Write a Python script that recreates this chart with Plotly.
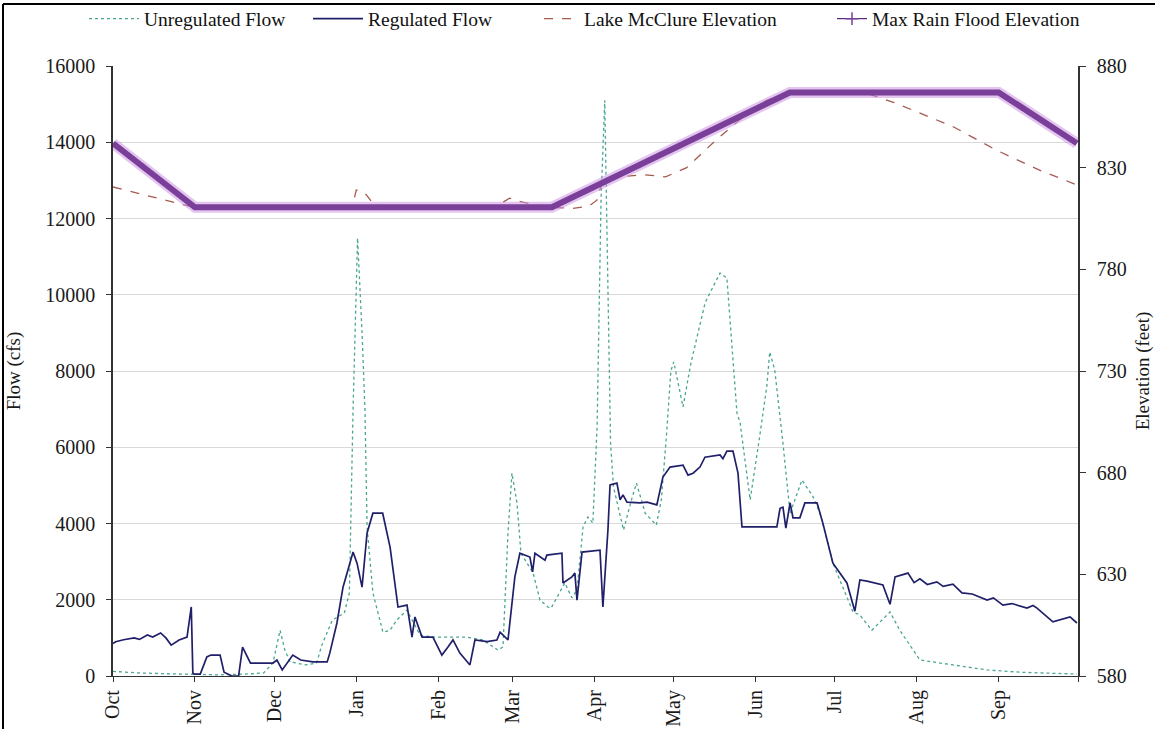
import pandas as pd
import plotly.graph_objects as go

# ---- data (day of water year counted from 1 Oct, value) ----
reg_day = [0, 1, 4, 8, 10, 13, 15, 18, 20, 22, 25, 28, 29.6, 30.2, 30.8, 33, 35.5, 37, 40.5, 42, 45, 47.5, 49, 52,
           60.5, 62, 64, 68, 71, 75.6, 81, 82, 84.7, 87, 90.8, 92.3, 94.2, 96.1, 98.3, 102, 104.8,
           107.8, 111.2, 113.1, 114.2, 116.9, 121, 124.4, 126.7, 128.6, 131.2, 135, 136.9, 141.5,
           145.2, 146.4, 149.4, 152.0, 153.9, 157.7, 158.7, 159.6, 163.4, 164.1, 169.8, 170.2,
           173.6, 174.7, 175.5, 177.4, 184.2, 185.3, 187.2, 188.0, 190.6, 191.8, 192.9, 194.4,
           199.3, 202.0, 205.7, 208.0, 210.7, 215.6, 217.5, 219.4, 222.0, 223.9, 229.6, 230.7,
           232.2, 234.5, 236.4, 237.9, 251.1, 252.3, 253.4, 254.5, 256.1, 257.2, 259.8, 261.7,
           266.3, 268.5, 272.3, 277.6, 280.6, 282.5, 285.2, 291.2, 293.9, 295.8, 300.7, 303,
           305.2, 308, 311.6, 314, 317.7, 321.1, 325, 330.6, 333, 336.6, 340, 345.7, 348, 349.5,
           355.5, 359, 362, 364.6]
reg_flow = [850, 900, 950, 1000, 960, 1075, 1020, 1130, 1000, 810, 945, 1020, 1810, 80, 50, 50, 500, 550, 550, 100, 0, 0, 760, 340,
            340, 420, 160, 550, 420, 370, 370, 600, 1390, 2330, 3250, 2960, 2330, 3750, 4270, 4270, 3380,
            1810, 1860, 1020, 1550, 1020, 1020, 550, 760, 945, 600, 290, 945, 900,
            945, 1150, 945, 2600, 3220, 3120, 2730, 3220, 3040, 3170, 3220, 2440,
            2600, 2700, 1990, 3250, 3300, 1810, 3830, 5010, 5060, 4620, 4750, 4560,
            4540, 4560, 4490, 5220, 5480, 5530, 5270, 5320, 5480, 5740, 5800, 5700,
            5900, 5900, 5320, 3910, 3910, 4400, 4430, 3880, 4540, 4150, 4150, 4540,
            4540, 4010, 2960, 2440, 1700, 2520, 2490, 2390, 1880, 2600, 2700, 2450,
            2550, 2400, 2470, 2350, 2410, 2180, 2150, 1990, 2050, 1860, 1900, 1780, 1850, 1780,
            1420, 1500, 1550, 1390]

unreg_day = [0, 10, 20, 30, 40, 50, 57, 60.5, 63.2, 65, 67, 73, 77, 79, 83, 87.5, 89.4, 90.8, 92.5,
             94.2, 95.3, 96.1, 98.3, 102.1, 104.8, 107.4, 111.2, 116.1, 121, 127.5, 133.9, 139.9,
             145.6, 147.5, 149.4, 150.9, 152.8, 154.3, 158.9, 161.5, 164.5, 165.7, 170.9, 173.6,
             175.5, 177.8, 179.6, 181.5, 183.1, 184.6, 186.0, 187.0, 188.2, 189.3, 193.1, 196.1,
             198.0, 201.3, 205.5, 207.4, 209.3, 211.0, 212.1, 215.6, 218.6, 224, 229.6, 232.2,
             234.9, 236.0, 237.2, 241.0, 244.4, 247.3, 248.4, 250.3, 253.4, 256.1, 260.6, 264.8,
             267.4, 272.3, 279.9, 282.5, 287, 293.9, 297.6, 305.2, 317.7, 330.6, 343, 355.5, 364.6]
unreg_flow = [120, 80, 60, 40, 30, 50, 80, 340, 1200, 680, 370, 290, 340, 810, 1470, 1650, 2180, 6980, 11490,
              9000, 6980, 3910, 2180, 1150, 1200, 1470, 1730, 1075, 1020, 1020, 1020, 945,
              680, 760, 3750, 5320, 4540, 3220, 2700, 1990, 1810, 1780, 2440, 2050,
              2260, 3910, 4170, 4010, 6530, 12500, 15100, 11000, 6110, 4960, 3830, 4620,
              5060, 4270, 3960, 4620, 6270, 8000, 8240, 7060, 8210, 9800, 10570, 10440,
              8030, 6900, 6640, 4620, 6190, 7600, 8500, 8030, 6110, 4270, 5140, 4700,
              4270, 2960, 1680, 1600, 1200, 1680, 1200, 420, 290, 160, 100, 60, 50]

lake_day = [0, 15, 30.6, 60, 88, 90.5, 92, 95, 98, 103, 130, 145, 150, 155, 165, 174, 180, 183, 185,
            186.5, 195, 201, 209, 217, 228, 237, 247, 256, 284, 295.5, 318, 334, 350, 364.6]
lake_elev = [820.5, 815.5, 810.5, 810, 810, 810.5, 819, 818, 813, 810.5, 810, 811, 815, 813, 810.5, 810,
             811, 814, 823, 825, 826, 826.5, 825.5, 830, 843.5, 853.5, 863, 867, 867, 862, 850, 838.7,
             829, 821.5]

flood_day = [0, 31, 166, 256, 335, 364.6]
flood_elev = [842, 810.5, 810.5, 867, 867, 842]

month_labels = ["Oct", "Nov", "Dec", "Jan", "Feb", "Mar", "Apr", "May", "Jun", "Jul", "Aug", "Sep"]

start = pd.Timestamp("2005-10-01")
def to_dates(days):
    return start + pd.to_timedelta(days, unit="D")

tickvals = list(pd.date_range("2005-10-01", periods=13, freq="MS"))
ticktext = month_labels + [""]

FONT = "Liberation Serif, Times New Roman, serif"
W, H = 1155, 729
L, R, T, B = 113, 77, 66, 53
PW, PH = W - L - R, H - T - B
TICKFONT = dict(family=FONT, size=20, color="#1a1a1a")
TITLEFONT = dict(family=FONT, size=19, color="#1a1a1a")
LEGFONT = dict(family=FONT, size=19.5, color="#111")

def leg(xpx, iw):
    return dict(orientation="h", xref="container", yref="container",
                x=xpx / W, xanchor="left", y=1 - 19 / H, yanchor="middle",
                font=LEGFONT, itemwidth=iw, bgcolor="rgba(0,0,0,0)")

fig = go.Figure()
fig.add_trace(go.Scatter(x=to_dates(unreg_day), y=unreg_flow, name="Unregulated Flow", legend="legend",
                         mode="lines", line=dict(color="#4aa592", width=1.3, dash="dot")))
fig.add_trace(go.Scatter(x=to_dates(reg_day), y=reg_flow, name="Regulated Flow", legend="legend2",
                         mode="lines", line=dict(color="#20206a", width=1.7)))
fig.add_trace(go.Scatter(x=to_dates(lake_day), y=lake_elev, name="Lake McClure Elevation", legend="legend3",
                         mode="lines", yaxis="y2", line=dict(color="#a65a50", width=1.3, dash="dash")))
fig.add_trace(go.Scatter(x=to_dates(flood_day), y=flood_elev, mode="lines", yaxis="y2",
                         showlegend=False, hoverinfo="skip",
                         line=dict(color="rgba(205,150,225,0.55)", width=11)))
fig.add_trace(go.Scatter(x=to_dates(flood_day), y=flood_elev, mode="lines", yaxis="y2",
                         showlegend=False, legendgroup="flood",
                         line=dict(color="#7a3f98", width=6)))
fig.add_trace(go.Scatter(x=[None], y=[None], name="Max Rain Flood Elevation", yaxis="y2", legend="legend4",
                         legendgroup="flood", mode="lines+markers",
                         line=dict(color="#5a2f78", width=1.2),
                         marker=dict(symbol="cross-thin", size=9, line=dict(color="#7a3f98", width=1.5))))

fig.update_layout(
    width=W, height=H,
    margin=dict(l=L, r=R, t=T, b=B, autoexpand=False),
    paper_bgcolor="white", plot_bgcolor="white",
    font=dict(family=FONT, size=14, color="#222"),
    showlegend=True,
    legend=leg(84, 50),
    legend2=leg(308, 50),
    legend3=leg(539, 35),
    legend4=leg(832, 30),
    xaxis=dict(type="date", range=[start, pd.Timestamp("2006-10-01")], automargin=False,
               tickvals=tickvals, ticktext=ticktext, tickangle=-90,
               ticks="outside", ticklen=5, tickcolor="#333", showgrid=False,
               showline=True, linecolor="#333", linewidth=1.2,
               tickfont=TICKFONT),
    yaxis=dict(range=[0, 16000], dtick=2000, tickformat="d", showgrid=True, automargin=False,
               gridcolor="#d9d9d9", gridwidth=1.3, showline=True, linecolor="#333", linewidth=1.5,
               ticks="outside", ticklen=5, tickcolor="#333", zeroline=False, ticklabelstandoff=7,
               title=dict(text="Flow (cfs)", font=TITLEFONT, standoff=20),
               tickfont=TICKFONT),
    yaxis2=dict(range=[580, 880], tickvals=[580, 630, 680, 730, 780, 830, 880], overlaying="y",
                side="right", showgrid=False, showline=True, linecolor="#333", linewidth=1.5,
                ticks="outside", ticklen=6, tickcolor="#333", zeroline=False, automargin=False,
                ticklabelstandoff=7,
                title=dict(text="Elevation (feet)", font=TITLEFONT, standoff=10),
                tickfont=TICKFONT),
    shapes=[
        dict(type="line", xref="paper", yref="paper", x0=(3 - L) / PW, x1=(3 - L) / PW,
             y0=(PH + T - H) / PH, y1=(PH + T - 4) / PH, line=dict(color="black", width=2)),
        dict(type="line", xref="paper", yref="paper", x0=(3 - L) / PW, x1=(W - L) / PW,
             y0=(PH + T - 4) / PH, y1=(PH + T - 4) / PH, line=dict(color="black", width=2)),
    ],
)

fig.write_html("out.html", config={"displayModeBar": False},
               post_script="document.body.style.margin='0';document.body.style.overflow='hidden';")
